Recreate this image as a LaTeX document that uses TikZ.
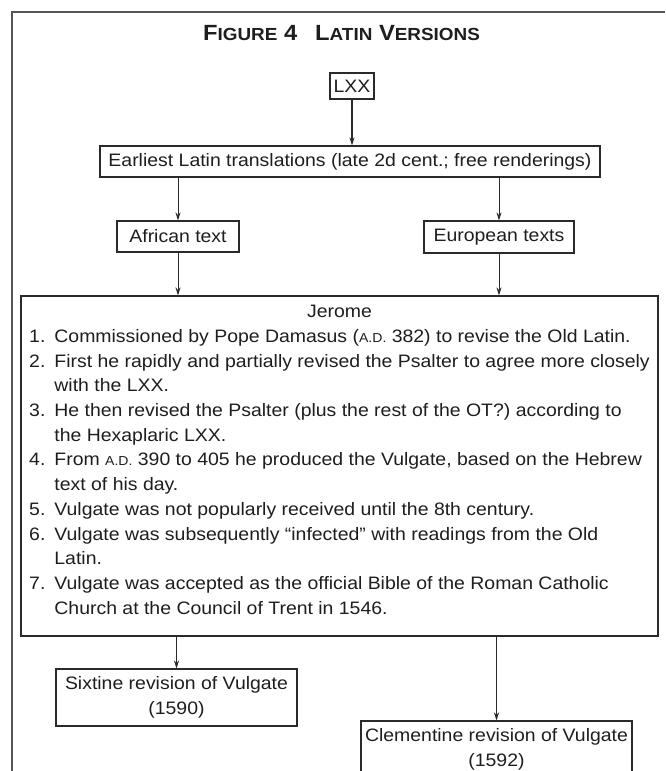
\documentclass[tikz,border=0pt]{standalone}
\usepackage{fontspec}
\setmainfont{Liberation Sans}[FakeStretch=1.08]
\usetikzlibrary{arrows.meta}
\definecolor{ink}{HTML}{1E1E1E}
\definecolor{rule}{HTML}{2A2A2A}
\definecolor{framec}{HTML}{555555}
\newcommand{\bodyfnt}{\fontsize{18}{24.7}\selectfont}
\newcommand{\smc}[1]{{\fontsize{13}{13}\selectfont #1}}
\newcommand{\tsc}[1]{{\fontsize{17.5}{17.5}\selectfont #1}}
\begin{document}
\begin{tikzpicture}[x=1pt,y=-1pt,
  every node/.style={font=\bodyfnt, text=ink},
  box/.style={draw=rule, line width=1.1pt, inner sep=0pt, align=center},
  arr/.style={draw=rule, line width=0.9pt, -{Stealth[length=8pt,width=5pt]}},
  arrthick/.style={arr, line width=1.6pt},
  frame/.style={draw=framec, line width=1.5pt}]
\useasboundingbox (0,0) rectangle (665,771);
\fill[white] (0,0) rectangle (665,771);
\draw[frame] (665,12) -- (12,12) -- (12,771);
\node[font=\fontsize{22}{22}\selectfont\bfseries] (title) at (341.5,33)
  {F\tsc{IGURE} 4\hspace{18pt}L\tsc{ATIN} V\tsc{ERSIONS}};
\node[box, minimum width=44pt, minimum height=26pt] (lxx) at (352,86) {LXX};
\node[box, minimum width=500pt, minimum height=31pt] (earliest) at (350,161.5)
  {Earliest Latin translations (late 2d cent.; free renderings)};
\node[box, minimum width=122pt, minimum height=31pt] (african) at (178,236.5) {African text};
\node[box, minimum width=150pt, minimum height=32pt] (european) at (499,237) {European texts};
\node[box, minimum width=637pt, minimum height=340pt] (jerome) at (339.5,466) {%
\begin{tabular}{@{}r@{\hspace{9pt}}l@{}}
\multicolumn{2}{c}{Jerome}\\
1. & Commissioned by Pope Damasus (\smc{A.D.} 382) to revise the Old Latin.\\
2. & First he rapidly and partially revised the Psalter to agree more closely\\
 & with the LXX.\\
3. & He then revised the Psalter (plus the rest of the OT?) according to\\
 & the Hexaplaric LXX.\\
4. & From \smc{A.D.} 390 to 405 he produced the Vulgate, based on the Hebrew\\
 & text of his day.\\
5. & Vulgate was not popularly received until the 8th century.\\
6. & Vulgate was subsequently “infected” with readings from the Old\\
 & Latin.\\
7. & Vulgate was accepted as the official Bible of the Roman Catholic\\
 & Church at the Council of Trent in 1546.\\[10pt]
\end{tabular}};
\node[box, minimum width=241pt, minimum height=57pt] (sixtine) at (176.5,697.5)
  {Sixtine revision of Vulgate\\(1590)};
\node[box, minimum width=271pt, minimum height=57pt] (clementine) at (496.5,749.5)
  {Clementine revision of Vulgate\\(1592)};
\draw[arrthick] (lxx.south) -- (lxx.south |- earliest.north);
\draw[arr] (african.north |- earliest.south) -- (african.north);
\draw[arr] (european.north |- earliest.south) -- (european.north);
\draw[arr] (african.south) -- (african.south |- jerome.north);
\draw[arr] (european.south) -- (european.south |- jerome.north);
\draw[arr] (sixtine.north |- jerome.south) -- (sixtine.north);
\draw[arrthick] (clementine.north |- jerome.south) -- (clementine.north);
\end{tikzpicture}
\end{document}
